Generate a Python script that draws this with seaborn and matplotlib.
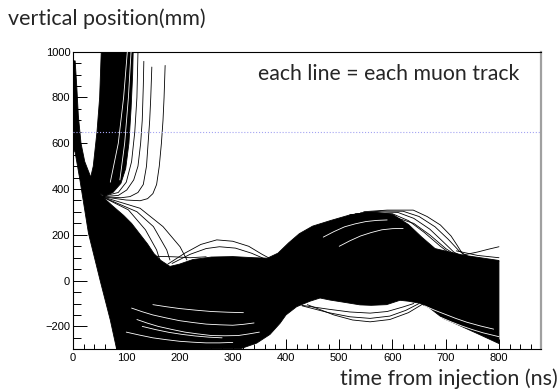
import numpy as np
import pandas as pd
import matplotlib
matplotlib.use("Agg")
import matplotlib.pyplot as plt
from matplotlib.ticker import MultipleLocator
import seaborn as sns

# dense part of the beam (outline), t in ns, y in mm
core_t = [0, 4, 7, 10, 15, 22, 32, 45, 56, 75, 95, 110, 125, 140, 152, 165, 182, 200, 225, 260,
          300, 340, 365, 385, 405, 425, 450, 483, 520, 560, 600, 630, 655, 680, 733, 771, 800,
          800, 760, 720, 695, 670, 652, 630, 614, 589, 560, 539, 510, 483, 464, 445, 420, 400, 389,
          370, 345, 314, 82, 70, 51, 29, 13, 4, 0]
core_y = [960, 960, 850, 720, 600, 520, 460, 400, 365, 325, 285, 250, 205, 160, 118, 88, 62, 72, 92, 103,
          105, 100, 98, 120, 165, 205, 238, 262, 287, 300, 290, 245, 190, 140, 111, 98, 88,
          -275, -232, -190, -165, -120, -99, -90, -86, -105, -108, -106, -95, -85, -76, -90, -114, -150, -186,
          -235, -273, -298, -300, -172, 0, 207, 439, 560, 580]

# muons kicked upwards (dense bundle)
fan_t = [32, 38, 45, 50, 53, 113, 112, 109, 105, 99, 90, 75, 58, 45]
fan_y = [440, 500, 650, 800, 1000, 1000, 900, 750, 600, 490, 425, 385, 368, 395]

# single tracks leaving the bundle upwards
escape_t = [[54, 100, 126, 140, 150, 157, 162, 166, 169, 171, 173],
            [54, 90, 107, 122, 132, 138, 141, 144, 146, 148],
            [54, 85, 101, 114, 122, 127, 130, 132, 133],
            [54, 85, 100, 110, 116, 120, 122]]
escape_y = [[367, 352, 349, 358, 380, 420, 500, 600, 700, 800, 940],
            [367, 362, 367, 385, 420, 500, 600, 700, 800, 933],
            [367, 372, 396, 440, 500, 600, 700, 850, 958],
            [367, 385, 430, 520, 650, 800, 1000]]

# tracks falling from the crossing point into the band
fall_t = [[54, 120, 151, 176, 182],
          [54, 104, 136, 157, 163],
          [54, 126, 169, 201, 214],
          [130, 160, 190, 220, 250]]
fall_y = [[367, 301, 236, 134, 90],
          [367, 309, 222, 134, 90],
          [367, 316, 236, 148, 90],
          [110, 106, 104, 100, 104]]

# outlier arcs above / below the band
arc_t = [[178, 210, 240, 270, 300, 330, 355, 375],
         [186, 220, 250, 275, 305, 335, 360],
         [430, 480, 520, 558, 590, 620, 640],
         [430, 480, 520, 558, 595, 625, 650],
         [440, 490, 525, 558, 595, 630, 655]]
arc_y = [[72, 120, 158, 178, 172, 150, 115, 90],
         [75, 115, 140, 148, 142, 120, 95],
         [-108, -125, -137, -142, -135, -115, -100],
         [-110, -140, -158, -165, -155, -130, -100],
         [-105, -150, -172, -180, -170, -140, -105]]

# tracks over the second hump and at the right edge
hump_t = [[546, 590, 639, 665, 690, 710, 721, 733, 760, 800],
          [540, 580, 620, 650, 680, 705, 725, 745],
          [530, 570, 610, 640, 670, 695, 715, 735],
          [520, 560, 600, 630, 660, 690, 710],
          [600, 640, 670, 700, 720],
          [733, 760, 780, 800],
          [720, 760, 800]]
hump_y = [[301, 308, 308, 280, 243, 195, 156, 112, 95, 85],
          [296, 304, 303, 280, 235, 180, 130, 100],
          [292, 300, 298, 272, 225, 170, 125, 100],
          [288, 296, 292, 262, 210, 150, 115],
          [280, 250, 200, 140, 110],
          [112, 125, 137, 148],
          [130, 110, 100]]

# gaps between tracks inside the band (drawn in white)
gap_t = [[110, 130, 150, 175, 200, 225, 250, 275, 300, 320, 340],
         [120, 140, 160, 185, 210, 235, 260, 285, 310, 330, 350],
         [100, 125, 150, 175, 200, 225, 250, 275, 300],
         [150, 175, 200, 230, 260, 290, 320],
         [130, 155, 180, 205, 230, 255, 280],
         [470, 490, 510, 530, 550, 570, 590],
         [500, 520, 540, 560, 580, 600, 620],
         [660, 680, 700, 720, 740, 765, 790],
         [690, 710, 730, 750, 770, 800],
         [70, 85, 95, 102],
         [88, 97, 104, 109]]
gap_y = [[-120, -136, -150, -163, -175, -183, -190, -193, -195, -191, -185],
         [-170, -186, -200, -213, -225, -233, -240, -241, -240, -233, -225],
         [-225, -238, -250, -258, -265, -269, -272, -272, -270],
         [-105, -114, -122, -129, -135, -138, -140],
         [-200, -214, -226, -235, -242, -247, -250],
         [190, 214, 235, 248, 258, 263, 265],
         [150, 174, 195, 210, 222, 227, 228],
         [-110, -130, -148, -166, -182, -198, -212],
         [-160, -180, -198, -214, -228, -245],
         [430, 600, 800, 1000],
         [440, 600, 800, 1000]]

cut_level = 650


def to_long(ts, ys, tag):
    rows = []
    for i, (tt, yy) in enumerate(zip(ts, ys)):
        for a, b in zip(tt, yy):
            rows.append((f"{tag}{i}", a, b))
    return pd.DataFrame(rows, columns=["track", "t", "y"])


black = pd.concat([to_long(escape_t, escape_y, "e"), to_long(fall_t, fall_y, "f"),
                   to_long(arc_t, arc_y, "a"), to_long(hump_t, hump_y, "h")])
white = to_long(gap_t, gap_y, "g")

sns.set_theme(style="ticks")
plt.rcParams["font.family"] = ["Liberation Sans", "DejaVu Sans"]

fig = plt.figure(figsize=(5.6, 3.9), dpi=100)
ax = fig.add_axes([0.1304, 0.1044, 0.8357, 0.763])

ax.fill(core_t, core_y, color="black", lw=0.6, zorder=2)
ax.fill(fan_t, fan_y, color="black", lw=0.6, zorder=2)
sns.lineplot(data=white, x="t", y="y", units="track", estimator=None, sort=False,
             color="white", lw=0.6, ax=ax, zorder=3, legend=False)
sns.lineplot(data=black, x="t", y="y", units="track", estimator=None, sort=False,
             color="black", lw=0.6, ax=ax, zorder=4, legend=False)
ax.axhline(cut_level, color="#a4a4f2", ls=":", lw=0.8, zorder=5)

ax.set_xlim(0, 879)
ax.set_ylim(-300, 1000)
ax.set_xlabel("")
ax.set_ylabel("")
ax.xaxis.set_major_locator(MultipleLocator(100))
ax.xaxis.set_minor_locator(MultipleLocator(20))
ax.yaxis.set_major_locator(MultipleLocator(200))
ax.yaxis.set_minor_locator(MultipleLocator(50))
ax.set_xticks(np.arange(0, 801, 100))
ax.tick_params(axis="both", which="both", direction="in", labelsize=8, colors="black",
               top=False, right=False)
ax.tick_params(axis="y", which="major", length=10, width=0.7, pad=2)
ax.tick_params(axis="y", which="minor", length=5.5, width=0.7)
ax.tick_params(axis="x", which="major", length=7, width=0.7, pad=3)
ax.tick_params(axis="x", which="minor", length=3.5, width=0.7)
for s in ["left", "bottom", "top"]:
    ax.spines[s].set_color("black")
    ax.spines[s].set_linewidth(0.8)
ax.spines["right"].set_color("#a0a0a0")
ax.spines["right"].set_linewidth(1.6)

lab = ["Lato", "DejaVu Sans"]
ax.text(0.395, 0.905, "each line = each muon track", transform=ax.transAxes,
        ha="left", va="baseline", fontsize=15.3, family=lab)
fig.text(8 / 560, 1 - 25 / 390, "vertical position(mm)", ha="left", va="baseline",
         fontsize=15.5, family=lab)
fig.text(558 / 560, 1 - 385 / 390, "time from injection (ns)", ha="right", va="baseline",
         fontsize=15.5, family=lab)

fig.savefig("out.png", dpi=100)
